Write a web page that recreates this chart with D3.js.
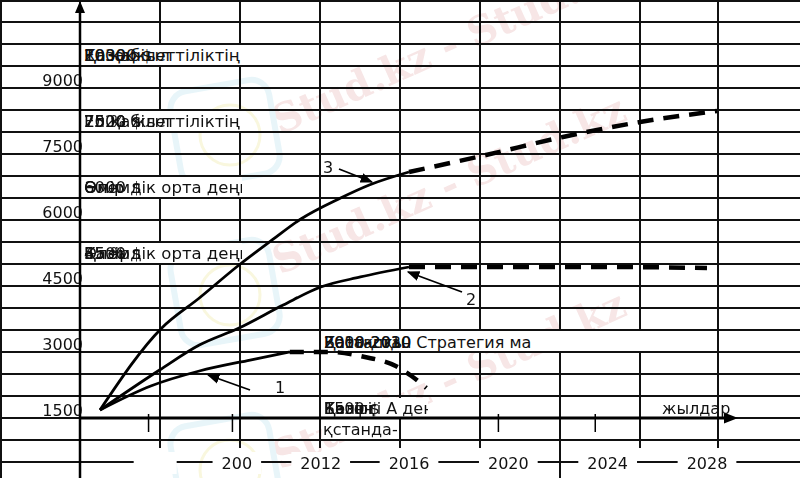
<!DOCTYPE html>
<html>
<head>
<meta charset="utf-8">
<script src="https://cdn.jsdelivr.net/npm/d3@7/dist/d3.min.js"></script>
<style>
  html, body { margin: 0; padding: 0; background: #fff; }
  svg { display: block; }
  text { font-family: "DejaVu Sans", sans-serif; }
</style>
</head>
<body>
<svg id="chart" width="800" height="478"></svg>
<script>
// ---------------- data ----------------
const yTickValues = [1500, 3000, 4500, 6000, 7500, 9000];
const xTickYears = [2004.5, 2008.2, 2012, 2016, 2020, 2024, 2028];
const xTickLabels = ["", "200", "2012", "2016", "2020", "2024", "2028"];
const axisTickYears = [2004.2, 2008, 2019.6, 2023.5];

const curve1SolidYears = [2002, 2004.3, 2006.5, 2008.8, 2010.6];
const curve1SolidValues = [1500, 2045, 2386, 2636, 2818];
const curve1DashYears = [2010.6, 2012.4, 2014, 2015.4, 2016.1, 2016.7];
const curve1DashValues = [2818, 2818, 2705, 2500, 2273, 2000];

const curve2SolidYears = [2002, 2004.7, 2006.5, 2008.3, 2010.3, 2012, 2013.8, 2016];
const curve2SolidValues = [1500, 2409, 2977, 3364, 3886, 4295, 4523, 4750];
const curve2DashYears = [2016, 2020, 2024, 2028];
const curve2DashValues = [4750, 4750, 4750, 4727];

const curve3SolidYears = [2002, 2004.8, 2006.5, 2008.3, 2009.8, 2011.1, 2012.9, 2014.2, 2016];
const curve3SolidValues = [1500, 3364, 4045, 4795, 5364, 5841, 6318, 6614, 6909];
const curve3DashYears = [2016, 2019.1, 2022.2, 2025.3, 2028.4];
const curve3DashValues = [6909, 7295, 7705, 8045, 8295];

const box1Texts = ["2030 жыл", "10000 $", "Қазақ", "Ел қабілеттіліктің"];
const box2Texts = ["2020 жыл", "7500 $", "75 %", "Ел қабілеттіліктің"];
const box3Texts = ["6000 $", "Өмір", "Әлемдік орта деңгей"];
const box4Texts = ["4500 $", "55 %", "Қазір", "Әлемдік орта деңгей"];
const box5Texts = ["2000-2010", "Бастапқы", "Қазақстан", "2010-2030 Стратегия мақсаты"];
const box6Line1Texts = ["1500 $", "Кезең", "Бөлігі", "Қазіргі А деңгей"];
const box6Line2 = "қстанда-";
const axisLabel = "жылдар";
const watermark = "Stud.kz - Stud.kz";

// ---------------- setup ----------------
const svg = d3.select("#chart");
const W = 800, H = 478;
const x = d3.scaleLinear().domain([2002, 2016, 2028]).range([100, 409, 707]);
const y = d3.scaleLinear().domain([1500, 9000]).range([410, 80]);

// watermark (behind, faint)
const wm = svg.append("g").attr("opacity", 0.16);
[[280, 135], [280, 275], [280, 470]].forEach(([wx, wy]) => {
  wm.append("text").attr("x", wx).attr("y", wy)
    .attr("transform", `rotate(-24 ${wx} ${wy})`)
    .style("font-family", "'DejaVu Serif', serif").style("font-weight", "bold")
    .style("font-size", "40px").attr("fill", "#c86060").text(watermark);
});
[[175, 85], [175, 245], [175, 420]].forEach(([lx, ly]) => {
  wm.append("rect").attr("x", lx).attr("y", ly).attr("width", 100).attr("height", 95)
    .attr("rx", 18).attr("fill", "none").attr("stroke", "#6cc0d8").attr("stroke-width", 6)
    .attr("transform", `rotate(-10 ${lx + 50} ${ly + 47})`);
  wm.append("circle").attr("cx", lx + 55).attr("cy", ly + 50).attr("r", 30)
    .attr("fill", "none").attr("stroke", "#d8cc30").attr("stroke-width", 3);
});

// grid
const grid = svg.append("g").attr("stroke", "#111").attr("stroke-width", 2);
d3.range(0, 22).forEach(i => {
  const gy = Math.max(1, i * 22);
  grid.append("line").attr("x1", 0).attr("x2", W).attr("y1", gy).attr("y2", gy);
});
d3.range(0, 10).forEach(i => {
  const gx = i === 9 ? 718 : Math.max(1, i * 80);
  const full = (i === 0 || i === 1 || i === 7);
  grid.append("line").attr("x1", gx).attr("x2", gx).attr("y1", 0).attr("y2", full ? H : 448);
});

// text boxes with clipping
let clipId = 0;
function textBox(bx, by, bw, bh, lines, fs) {
  svg.append("rect").attr("x", bx).attr("y", by).attr("width", bw).attr("height", bh).attr("fill", "#fff");
  const id = "clip" + (clipId++);
  svg.append("clipPath").attr("id", id).append("rect")
    .attr("x", bx).attr("y", by).attr("width", bw).attr("height", bh);
  const g = svg.append("g").attr("clip-path", `url(#${id})`);
  lines.forEach(l => {
    l.texts.forEach(t => {
      g.append("text").attr("x", bx + 2).attr("y", l.y).style("font-size", (fs || 16) + "px")
        .attr("fill", "#111").text(t);
    });
  });
}
textBox(82, 45, 160, 20, [{ y: 61, texts: box1Texts }], 16.5);
textBox(82, 111, 160, 20, [{ y: 127, texts: box2Texts }], 16.5);
textBox(82, 177, 160, 20, [{ y: 193, texts: box3Texts }], 16.5);
textBox(82, 243, 160, 20, [{ y: 259, texts: box4Texts }], 16.5);
textBox(322, 331, 394, 20, []);
const b5 = svg.append("clipPath").attr("id", "clipb5");
b5.append("rect").attr("x", 322).attr("y", 331).attr("width", 210).attr("height", 20);
const g5 = svg.append("g").attr("clip-path", "url(#clipb5)");
box5Texts.forEach(t => g5.append("text").attr("x", 324).attr("y", 348)
  .style("font-size", "16px").attr("fill", "#111").text(t));
textBox(322, 398, 106, 19, [{ y: 414, texts: box6Line1Texts }]);
svg.append("rect").attr("x", 322).attr("y", 419).attr("width", 76).attr("height", 20).attr("fill", "#fff");
svg.append("text").attr("x", 323).attr("y", 435).style("font-size", "16px").attr("fill", "#111").text(box6Line2);

// bottom tick labels with white backgrounds
xTickYears.forEach((yr, i) => {
  const cx = x(yr);
  const lbl = xTickLabels[i];
  const t = svg.append("text").attr("x", cx).attr("y", 469).attr("text-anchor", "middle")
    .style("font-size", "16px").attr("fill", "#111").text(lbl);
  const w = lbl ? t.node().getComputedTextLength() + 18 : 43;
  svg.insert("rect", () => t.node()).attr("x", cx - w / 2).attr("y", 452).attr("width", w)
    .attr("height", 22).attr("fill", "#fff");
});

// y tick labels
yTickValues.forEach(v => {
  svg.append("text").attr("x", 83).attr("y", y(v) + 6).attr("text-anchor", "end")
    .style("font-size", "16px").attr("fill", "#111").text(v);
});

// axes
svg.append("line").attr("x1", 80).attr("x2", 80).attr("y1", 478).attr("y2", 8)
  .attr("stroke", "#000").attr("stroke-width", 2.5);
svg.append("path").attr("d", "M80,1 L75,13 L85,13 Z").attr("fill", "#000");
svg.append("line").attr("x1", 80).attr("x2", 726).attr("y1", 418).attr("y2", 418)
  .attr("stroke", "#000").attr("stroke-width", 3);
svg.append("path").attr("d", "M738,418 L724,412.5 L724,423.5 Z").attr("fill", "#000");
axisTickYears.forEach(yr => {
  svg.append("line").attr("x1", x(yr)).attr("x2", x(yr)).attr("y1", 414).attr("y2", 432)
    .attr("stroke", "#000").attr("stroke-width", 1.5);
});
svg.append("text").attr("x", 662).attr("y", 414).style("font-size", "16px").attr("fill", "#111").text(axisLabel);

// curves
const line = d3.line().x(d => x(d[0])).y(d => y(d[1])).curve(d3.curveMonotoneX);
function drawCurve(years, values, dashed, dash) {
  svg.append("path").datum(years.map((yr, i) => [yr, values[i]]))
    .attr("d", line).attr("fill", "none").attr("stroke", "#000")
    .attr("stroke-width", dashed ? 4.5 : 2.8)
    .attr("stroke-dasharray", dashed ? dash : null);
}
drawCurve(curve1SolidYears, curve1SolidValues, false);
drawCurve(curve1DashYears, curve1DashValues, true, "14,10");
drawCurve(curve2SolidYears, curve2SolidValues, false);
drawCurve(curve2DashYears, curve2DashValues, true, "16,10");
drawCurve(curve3SolidYears, curve3SolidValues, false);
drawCurve(curve3DashYears, curve3DashValues, true, "16,10");

// pointer labels
svg.append("defs").append("marker").attr("id", "ah").attr("viewBox", "0 0 10 10")
  .attr("refX", 9).attr("refY", 5).attr("markerWidth", 7).attr("markerHeight", 7)
  .attr("orient", "auto").append("path").attr("d", "M0,1 L10,5 L0,9 Z").attr("fill", "#000");
function pointer(label, lx, ly, x1, y1, x2, y2) {
  svg.append("text").attr("x", lx).attr("y", ly).style("font-size", "16px").attr("fill", "#111").text(label);
  svg.append("line").attr("x1", x1).attr("y1", y1).attr("x2", x2).attr("y2", y2)
    .attr("stroke", "#000").attr("stroke-width", 1.8).attr("marker-end", "url(#ah)");
}
pointer("3", 323, 173, 339, 169, 372, 182);
pointer("2", 466, 305, 462, 292, 408, 272);
pointer("1", 275, 393, 250, 390, 208, 375);
</script>
</body>
</html>
